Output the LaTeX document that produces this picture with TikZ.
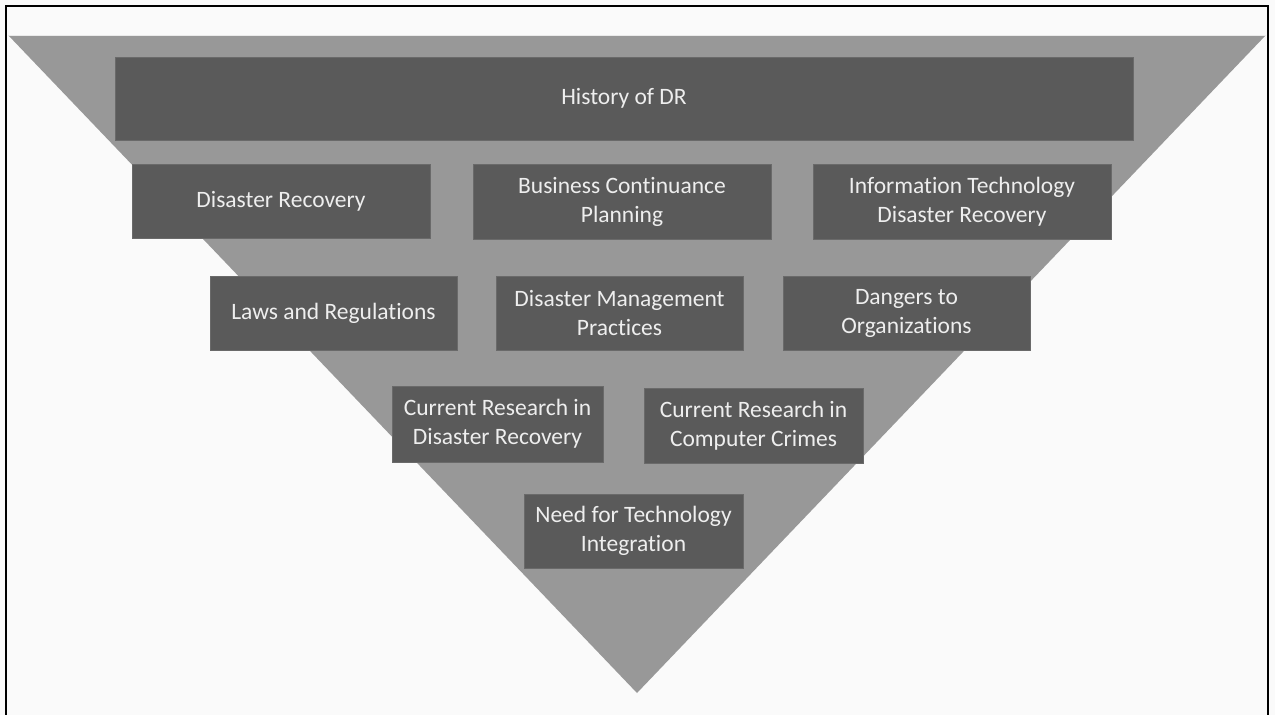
\documentclass[tikz,border=0pt]{standalone}
\usepackage{fontspec}
\setmainfont{Carlito}[Ligatures=NoCommon]
\usepackage{tikz}

\definecolor{pagebg}{HTML}{FAFAFA}
\definecolor{funnelgray}{HTML}{989898}
\definecolor{boxgray}{HTML}{5A5A5A}
\definecolor{boxedge}{HTML}{6A6A6A}
\definecolor{boxtext}{HTML}{EEEEEE}

\begin{document}
\begin{tikzpicture}[x=1pt,y=-1pt,
  topic/.style={rectangle,fill=boxgray,draw=boxedge,line width=1pt,
    text=boxtext,align=center,inner sep=0pt,
    font=\fontsize{23.5}{29}\selectfont}]
\useasboundingbox (0,0) rectangle (1275,715);
\fill[pagebg] (0,0) rectangle (1275,715);
% frame, open at the bottom
\draw[line width=2pt] (6,715) -- (6,6) -- (1268,6) -- (1268,715);
% the funnel
\fill[funnelgray] (8,35) -- (1266,35) -- (637,693) -- cycle;
\draw[white!80!funnelgray,line width=1pt] (8,35) -- (1266,35);

% top row
\node[topic,minimum width=1018pt,minimum height=83pt] (hist) at (624,98.5) {History of DR};

% second row
\node[topic,minimum width=298pt,minimum height=74pt] (dr)   at (281,201)   {Disaster Recovery};
\node[topic,minimum width=298pt,minimum height=75pt] (bcp)  at (622,201.5) {Business Continuance\\Planning};
\node[topic,minimum width=298pt,minimum height=75pt] (itdr) at (962,201.5) {Information Technology\\Disaster Recovery};

% third row
\node[topic,minimum width=247pt,minimum height=74pt] (laws) at (333.5,313) {Laws and Regulations};
\node[topic,minimum width=247pt,minimum height=74pt] (dmp)  at (619.5,313) {Disaster Management\\Practices};
\node[topic,minimum width=247pt,minimum height=74pt] (dang) at (906.5,313) {Dangers to\\Organizations};

% fourth row
\node[topic,minimum width=211pt,minimum height=76pt] (crdr) at (497.5,424)   {Current Research in\\Disaster Recovery};
\node[topic,minimum width=219pt,minimum height=75pt] (crcc) at (753.5,425.5) {Current Research in\\Computer Crimes};

% bottom
\node[topic,minimum width=219pt,minimum height=74pt] (need) at (633.5,531) {Need for Technology\\Integration};
\end{tikzpicture}
\end{document}
